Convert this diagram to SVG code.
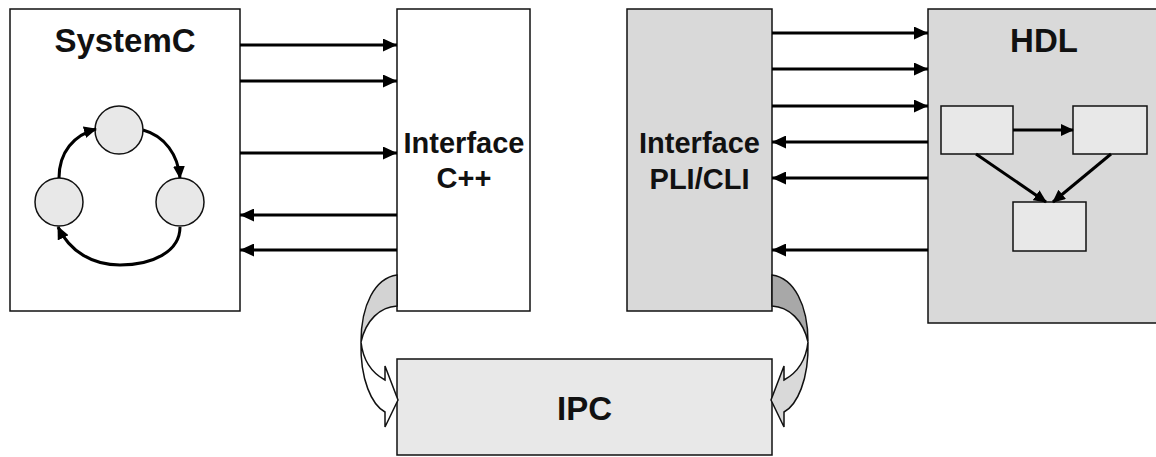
<svg xmlns="http://www.w3.org/2000/svg" width="1156" height="457" viewBox="0 0 1156 457">
<defs>
<marker id="ah" markerUnits="userSpaceOnUse" markerWidth="14" markerHeight="13" viewBox="0 0 14 13" refX="14" refY="6.5" orient="auto">
<path d="M0,0 L14,6.5 L0,13 Z" fill="#000"/>
</marker>
<marker id="ahs" markerUnits="userSpaceOnUse" markerWidth="13" markerHeight="12" viewBox="0 0 13 12" refX="12" refY="6" orient="auto">
<path d="M0,0 L13,6 L0,12 Z" fill="#000"/>
</marker>
</defs>
<style>
.box{stroke:#111;stroke-width:1.5}
.w{fill:#fff}
.g{fill:#d9d9d9}
.l{fill:#e8e8e8}
.t{font-family:"Liberation Sans",Arial,sans-serif;font-weight:bold;fill:#111;text-anchor:middle}
.big{font-size:33px}
.mid{font-size:29px}
.c{stroke:#000;stroke-width:3;fill:none;marker-end:url(#ah)}
.cs{stroke:#000;stroke-width:3;fill:none;marker-end:url(#ahs)}
.ca{stroke:#111;stroke-width:1.5}
</style>
<g id="systemc">
<rect class="box w" x="10" y="9" width="230" height="302"/>
<text class="t big" x="125" y="52">SystemC</text>
<circle class="box l" cx="119" cy="130" r="24"/>
<circle class="box l" cx="59" cy="202" r="24"/>
<circle class="box l" cx="180" cy="202" r="24"/>
<path class="cs" d="M59,178 C59,152 74,135 96,129"/>
<path class="cs" d="M143,130 C165,136 178,155 180,178"/>
<path class="cs" d="M180,227 C180,252 152,265 120,265 C93,265 70,252 58,227"/>
</g>
<g id="interface-cpp">
<rect class="box w" x="397" y="9" width="133" height="302"/>
<text class="t mid" x="464" y="153">Interface</text>
<text class="t mid" x="464" y="188">C++</text>
</g>
<g id="interface-pli">
<rect class="box g" x="627" y="9" width="145" height="302"/>
<text class="t mid" x="699.5" y="153">Interface</text>
<text class="t mid" x="699.5" y="189">PLI/CLI</text>
</g>
<g id="hdl">
<rect class="box g" x="928" y="9" width="240" height="314"/>
<text class="t big" x="1044" y="52">HDL</text>
<rect class="box l" x="941" y="106" width="72" height="48"/>
<rect class="box l" x="1073" y="106" width="74" height="48"/>
<rect class="box l" x="1013" y="202" width="73" height="49"/>
<path class="cs" d="M1013,130 L1073,130"/>
<path class="cs" d="M976,154 L1046,202"/>
<path class="cs" d="M1111,154 L1053,202"/>
</g>
<g id="ipc">
<rect class="box l" x="397" y="359" width="375" height="96"/>
<text class="t big" x="584.5" y="420">IPC</text>
</g>
<g id="connectors">
<path class="c" d="M240,45 L397,45"/>
<path class="c" d="M240,81 L397,81"/>
<path class="c" d="M240,153 L397,153"/>
<path class="c" d="M397,215 L240,215"/>
<path class="c" d="M397,250 L240,250"/>
<path class="c" d="M772,33 L928,33"/>
<path class="c" d="M772,69 L928,69"/>
<path class="c" d="M772,106 L928,106"/>
<path class="c" d="M928,142 L772,142"/>
<path class="c" d="M928,178 L772,178"/>
<path class="c" d="M928,250 L772,250"/>
<g id="curved-left">
<path class="ca" fill="#d3d3d3" d="M397,275 C375,278 361,305 361,342 C366,320 380,307 397,306 Z"/>
<path class="ca" fill="#fff" d="M361,342 C360,380 372,405 385,412 L385,427 L398,400 L385,366 L385,380 C372,373 363,360 361,342 Z"/>
</g>
<g id="curved-right">
<path class="ca" fill="#a8a8a8" d="M772,275 C794,278 808,305 808,342 C803,320 789,307 772,306 Z"/>
<path class="ca" fill="#d9d9d9" d="M808,342 C809,380 797,405 784,412 L784,427 L771,400 L784,366 L784,380 C797,373 806,360 808,342 Z"/>
</g>
</g>
</svg>
